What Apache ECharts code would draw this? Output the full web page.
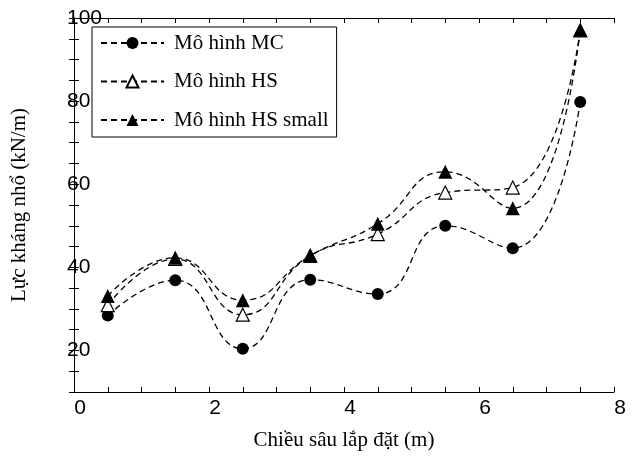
<!DOCTYPE html>
<html>
<head>
<meta charset="utf-8">
<script src="https://cdn.jsdelivr.net/npm/echarts@6/dist/echarts.min.js"></script>
<style>
  html, body { margin: 0; padding: 0; background: #fff; }
  #main { width: 639px; height: 456px; }
</style>
</head>
<body>
<div id="main"></div>
<script>
// chiều sâu lắp đặt (m)
var depths = [0.5, 1.5, 2.5, 3.5, 4.5, 5.5, 6.5, 7.5];
// lực kháng nhổ (kN/m)
var mcValues = [28.4, 36.9, 20.4, 37.0, 33.6, 50.0, 44.6, 79.8];
var hsValues = [30.9, 42.0, 28.6, 42.8, 48.0, 58.0, 59.2, 97.0];
var hsSmallValues = [33.1, 42.3, 32.1, 42.8, 50.5, 63.0, 54.2, 97.2];
var seriesNames = ['Mô hình MC', 'Mô hình HS', 'Mô hình HS small'];
var xTickLabels = [0, 2, 4, 6, 8];
var yTickLabels = [20, 40, 60, 80, 100];

function pairs(vals) {
  var res = [];
  for (var i = 0; i < depths.length; i++) {
    res.push([depths[i], vals[i]]);
  }
  return res;
}

var chart = echarts.init(document.getElementById('main'));

var dashLine = { color: '#000', width: 1.3, type: [6, 4] };
var tickStyle = { color: '#000', width: 1 };

chart.setOption({
  animation: false,
  backgroundColor: '#fff',
  grid: { left: 74, right: 25, top: 18, bottom: 56 },
  legend: {
    orient: 'vertical',
    left: 92,
    top: 27,
    padding: [5, 8, 6, 8],
    itemGap: 16.5,
    itemWidth: 63,
    itemHeight: 15,
    borderColor: '#000',
    borderWidth: 1,
    backgroundColor: '#fff',
    textStyle: { fontFamily: 'Liberation Serif', fontSize: 21, lineHeight: 22, color: '#000', padding: [0, 0, 0, 5] },
    data: seriesNames
  },
  xAxis: [{
    type: 'value',
    min: 0, max: 8, interval: 0.5,
    name: 'Chiều sâu lắp đặt (m)',
    nameLocation: 'middle',
    nameGap: 38,
    nameTextStyle: { fontFamily: 'Liberation Serif', fontSize: 21, color: '#000' },
    axisLine: { lineStyle: { color: '#000', width: 1 } },
    axisTick: { inside: true, length: 5, lineStyle: tickStyle },
    axisLabel: {
      margin: 6,
      fontFamily: 'Liberation Sans', fontSize: 21, color: '#000',
      padding: [0, 0, 0, 12],
      formatter: function (v) { return xTickLabels.indexOf(v) >= 0 ? String(v) : ''; }
    },
    splitLine: { show: false }
  }, {
    type: 'value',
    position: 'top',
    min: 0, max: 8, interval: 0.5,
    axisLine: { show: true, lineStyle: { color: '#000', width: 1 } },
    axisTick: { inside: true, length: 5, lineStyle: tickStyle },
    axisLabel: { show: false },
    splitLine: { show: false }
  }],
  yAxis: [{
    type: 'value',
    min: 10, max: 100, interval: 5,
    name: 'Lực kháng nhổ (kN/m)',
    nameLocation: 'middle',
    nameGap: 44,
    nameTextStyle: { fontFamily: 'Liberation Serif', fontSize: 21, color: '#000' },
    axisLine: { show: true, lineStyle: { color: '#000', width: 1 } },
    axisTick: { show: true, inside: true, length: 5, lineStyle: tickStyle },
    axisLabel: {
      margin: 7,
      align: 'left',
      fontFamily: 'Liberation Sans', fontSize: 21, color: '#000',
      padding: [0, 0, 8, 0],
      formatter: function (v) { return yTickLabels.indexOf(v) >= 0 ? String(v) : ''; }
    },
    splitLine: { show: false }
  }, {
    type: 'value',
    position: 'right',
    min: 10, max: 100, interval: 5,
    axisLine: { show: true, lineStyle: { color: '#000', width: 1 } },
    axisTick: { show: true, inside: true, length: 5, lineStyle: tickStyle },
    axisLabel: { show: false },
    splitLine: { show: false }
  }],
  series: [{
    name: seriesNames[0],
    type: 'line',
    smooth: 0.5,
    data: pairs(mcValues),
    symbol: 'circle',
    symbolSize: 12,
    itemStyle: { color: '#000' },
    lineStyle: dashLine
  }, {
    name: seriesNames[1],
    type: 'line',
    smooth: 0.5,
    data: pairs(hsValues),
    symbol: 'triangle',
    symbolSize: 13,
    itemStyle: { color: '#fff', borderColor: '#000', borderWidth: 1.2 },
    lineStyle: dashLine
  }, {
    name: seriesNames[2],
    type: 'line',
    smooth: 0.5,
    data: pairs(hsSmallValues),
    symbol: 'triangle',
    symbolSize: 14,
    itemStyle: { color: '#000' },
    lineStyle: dashLine
  }]
});
</script>
</body>
</html>
